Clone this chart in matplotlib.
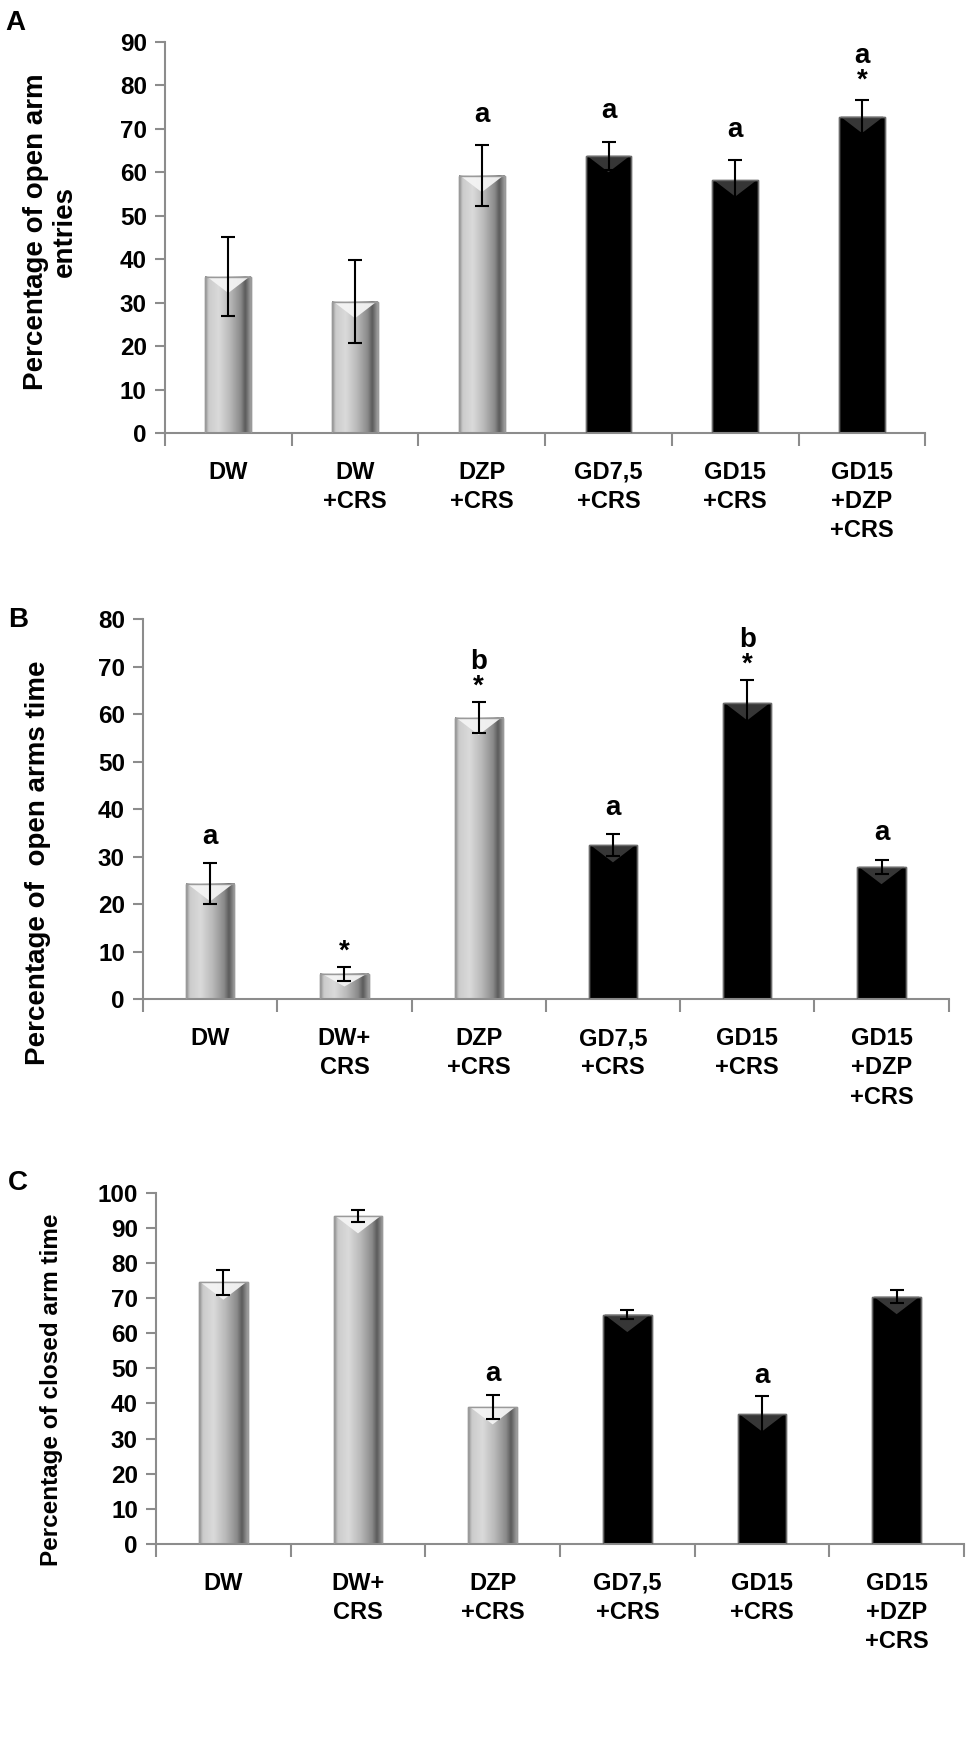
import numpy as np
import matplotlib
matplotlib.use("Agg")
import matplotlib.pyplot as plt
from matplotlib.colors import LinearSegmentedColormap
from matplotlib.patches import Polygon

# data
labels_A = ["DW", "DW\n+CRS", "DZP\n+CRS", "GD7,5\n+CRS", "GD15\n+CRS", "GD15\n+DZP\n+CRS"]
labels_BC = ["DW", "DW+\nCRS", "DZP\n+CRS", "GD7,5\n+CRS", "GD15\n+CRS", "GD15\n+DZP\n+CRS"]

entries_mean = [36.0, 30.2, 59.2, 63.8, 58.2, 72.8]
entries_err = [9.0, 9.5, 7.0, 3.2, 4.6, 3.8]
entries_marks = ["", "", "a", "a", "a", "a\n*"]

open_time_mean = [24.3, 5.4, 59.3, 32.5, 62.4, 27.9]
open_time_err = [4.3, 1.5, 3.2, 2.3, 4.8, 1.5]
open_time_marks = ["a", "*", "b\n*", "a", "b\n*", "a"]

closed_time_mean = [74.5, 93.4, 39.0, 65.3, 37.0, 70.4]
closed_time_err = [3.5, 1.8, 3.3, 1.2, 5.0, 1.8]
closed_time_marks = ["", "", "a", "", "a", ""]

is_dark = [False, False, False, True, True, True]

SANS = ["Liberation Sans", "DejaVu Sans"]
AXIS_GREY = "#8c8c8c"

# cylinder-like shading for the grey bars
cyl = LinearSegmentedColormap.from_list("cyl", [
    (0.0, "#8a8a8a"), (0.08, "#cccccc"), (0.3, "#dadada"), (0.55, "#b8b8b8"),
    (0.78, "#8a8a8a"), (0.88, "#5a5a5a"), (1.0, "#a0a0a0")])
grad = np.linspace(0, 1, 256).reshape(1, -1)


def draw_panel(ax, means, errs, marks, labels, ymax, ystep, ylabel, ylab_xy,
               ylab_size, mark_off):
    x = np.arange(len(means))
    width = 0.36
    bars = ax.bar(x, means, width, color=["black" if d else "#c0c0c0" for d in is_dark],
                  edgecolor=["#6a6a6a" if d else "#9a9a9a" for d in is_dark],
                  linewidth=1, zorder=1)

    px_x = ax.bbox.width / 6.0
    px_y = ax.bbox.height / ymax
    for rect, dark in zip(bars, is_dark):
        x0, w, h = rect.get_x(), rect.get_width(), rect.get_height()
        if not dark:
            ax.imshow(grad, cmap=cyl, extent=[x0, x0 + w, 0, h], aspect="auto",
                      interpolation="bicubic", zorder=2)
        depth_px = min(0.36 * w * px_x, 0.5 * h * px_y)
        depth = depth_px / px_y
        tri = Polygon([[x0 + 0.03 * w, h], [x0 + 0.97 * w, h], [x0 + w / 2, h - depth]],
                      closed=True, facecolor="#3a3a3a" if dark else "#f4f4f4",
                      edgecolor="none", alpha=0.95, zorder=3)
        ax.add_patch(tri)
        rect_edge = plt.Rectangle((x0, 0), w, h, facecolor="none",
                                  edgecolor="#6a6a6a" if dark else "#9a9a9a",
                                  linewidth=1, zorder=3)
        ax.add_patch(rect_edge)

    ax.errorbar(x, means, yerr=errs, fmt="none", ecolor="black", elinewidth=1.5,
                capsize=5, capthick=1.5, zorder=5)

    for xi, m, e, mk in zip(x, means, errs, marks):
        if not mk:
            continue
        off = mark_off - 8 if mk.endswith("*") else mark_off
        ax.annotate(mk, (xi, m + e), xytext=(0, off), textcoords="offset points",
                    ha="center", va="baseline", fontsize=20, fontweight="bold",
                    family=SANS, linespacing=0.95)

    ax.set_xlim(-0.5, 5.5)
    ax.set_ylim(0, ymax)
    ax.set_yticks(np.arange(0, ymax + 1, ystep))
    ax.set_xticks(x)
    ax.set_xticklabels(labels, fontsize=17, fontweight="bold", family=SANS,
                       linespacing=1.35)
    ax.set_xticks(np.arange(-0.5, 6.0, 1.0), minor=True)
    for t in ax.get_yticklabels():
        t.set_family(SANS)
        t.set_fontweight("bold")
        t.set_fontsize(17.5)
    ax.tick_params(axis="x", which="major", length=0, pad=20)
    ax.tick_params(axis="x", which="minor", length=9, width=1.5, color=AXIS_GREY,
                   direction="out")
    ax.tick_params(axis="y", length=7, width=1.5, color=AXIS_GREY, direction="out",
                   pad=6)
    for s in ("top", "right"):
        ax.spines[s].set_visible(False)
    for s in ("left", "bottom"):
        ax.spines[s].set_color(AXIS_GREY)
        ax.spines[s].set_linewidth(1.5)
    ax.set_ylabel(ylabel, fontsize=ylab_size, fontweight="bold", family=SANS,
                  va="center", linespacing=1.15)
    ax.yaxis.set_label_coords(*ylab_xy)


fig = plt.figure(figsize=(9.7, 17.41), dpi=100)
axA = fig.add_axes([0.170, 0.7513, 0.784, 0.2246])
axB = fig.add_axes([0.1474, 0.4260, 0.8306, 0.2183])
axC = fig.add_axes([0.1608, 0.1132, 0.8330, 0.2017])

draw_panel(axA, entries_mean, entries_err, entries_marks, labels_A, 90, 10,
           "Percentage of open arm\nentries", (-0.151, 0.514), 20, 17)
draw_panel(axB, open_time_mean, open_time_err, open_time_marks, labels_BC, 80, 10,
           "Percentage of  open arms time", (-0.130, 0.359), 20, 14)
draw_panel(axC, closed_time_mean, closed_time_err, closed_time_marks, labels_BC, 100, 10,
           "Percentage of closed arm time", (-0.129, 0.44), 17.5, 10)

for letter, (fx, fy) in zip("ABC", [(0.016, 0.987), (0.019, 0.644), (0.018, 0.3205)]):
    fig.text(fx, fy, letter, fontsize=20, fontweight="bold", family=SANS,
             ha="center", va="center")

fig.savefig("out.png", dpi=100)
